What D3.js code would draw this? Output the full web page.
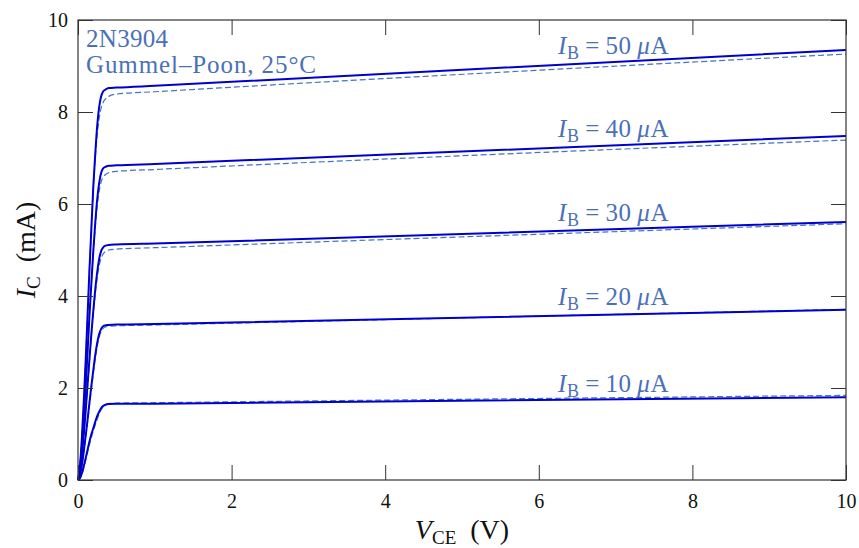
<!DOCTYPE html>
<html>
<head>
<meta charset="utf-8">
<script src="https://cdn.jsdelivr.net/npm/d3@7"></script>
<style>
html,body{margin:0;padding:0;background:#fff;}
svg{display:block;}
</style>
</head>
<body>
<svg id="chart" width="859" height="548"></svg>
<script>
// ---- data ----
const vce = [0, 0.025, 0.05, 0.075, 0.1, 0.125, 0.15, 0.175, 0.2, 0.225, 0.25, 0.275, 0.3, 0.325, 0.35, 0.4, 0.5, 1, 10];
const baseCurrents = [50, 40, 30, 20, 10]; // µA
// measured-style (solid) curves, I_C in mA
const solid50 = [0, 0.3, 0.9, 1.7, 2.6, 3.6, 4.6, 5.5, 6.4, 7.1, 7.7, 8.1, 8.33, 8.44, 8.48, 8.52, 8.53, 8.57, 9.35];
const solid40 = [0, 0.23, 0.7, 1.33, 2.03, 2.8, 3.6, 4.3, 5.0, 5.6, 6.1, 6.45, 6.67, 6.77, 6.8, 6.83, 6.84, 6.87, 7.48];
const solid30 = [0, 0.17, 0.52, 0.98, 1.5, 2.08, 2.65, 3.2, 3.7, 4.15, 4.52, 4.8, 4.97, 5.05, 5.09, 5.11, 5.12, 5.14, 5.61];
const solid20 = [0, 0.1, 0.32, 0.62, 0.96, 1.32, 1.7, 2.06, 2.4, 2.72, 2.98, 3.17, 3.28, 3.34, 3.36, 3.37, 3.38, 3.39, 3.70];
const solid10 = [0, 0.04, 0.14, 0.3, 0.48, 0.66, 0.84, 1.0, 1.13, 1.27, 1.39, 1.48, 1.56, 1.61, 1.63, 1.65, 1.655, 1.66, 1.80];
// Gummel–Poon model (dashed) curves
const model50 = [0, 0.3, 0.9, 1.7, 2.6, 3.6, 4.6, 5.5, 6.35, 7.0, 7.5, 7.85, 8.08, 8.2, 8.27, 8.34, 8.39, 8.44, 9.26];
const model40 = [0, 0.23, 0.7, 1.33, 2.03, 2.8, 3.6, 4.3, 4.95, 5.5, 5.95, 6.27, 6.47, 6.58, 6.63, 6.68, 6.71, 6.75, 7.39];
const model30 = [0, 0.17, 0.52, 0.98, 1.5, 2.06, 2.6, 3.15, 3.63, 4.05, 4.4, 4.65, 4.82, 4.91, 4.96, 5.0, 5.02, 5.05, 5.57];
const model20 = [0, 0.1, 0.3, 0.6, 0.92, 1.27, 1.63, 1.98, 2.32, 2.63, 2.9, 3.1, 3.22, 3.29, 3.32, 3.34, 3.35, 3.37, 3.71];
const model10 = [0, 0.03, 0.12, 0.26, 0.42, 0.6, 0.77, 0.93, 1.07, 1.2, 1.32, 1.43, 1.52, 1.58, 1.62, 1.66, 1.67, 1.68, 1.84];
const solidSeries = [solid50, solid40, solid30, solid20, solid10];
const modelSeries = [model50, model40, model30, model20, model10];
// label anchor levels (I_C in mA at each label's baseline)
const labelLevels = [9.26, 7.46, 5.63, 3.80, 1.91];
const xTicks = [0, 2, 4, 6, 8, 10];
const yTicks = [0, 2, 4, 6, 8, 10];
const titleLines = ["2N3904", "Gummel\u2013Poon, 25\u00B0C"];

// ---- layout ----
const FONT = "Liberation Serif";
const svg = d3.select("#chart");
const L = 78, R = 846, T = 20, B = 480;
const x = d3.scaleLinear().domain([0, 10]).range([L, R]);
const y = d3.scaleLinear().domain([0, 10]).range([B, T]);
const tickLen = 15;
const axisColor = "#333";
const annColor = "#4a71b8";

// curves
const line = d3.line().x((d, i) => x(vce[i])).y(d => y(d)).curve(d3.curveMonotoneX);
const gCurves = svg.append("g");
modelSeries.forEach(s => {
  gCurves.append("path").attr("d", line(s)).attr("fill", "none")
    .attr("stroke", "#4472c4").attr("stroke-width", 1.2).attr("stroke-dasharray", "6,3");
});
solidSeries.forEach(s => {
  gCurves.append("path").attr("d", line(s)).attr("fill", "none")
    .attr("stroke", "#0000cd").attr("stroke-width", 2);
});

// axes
function styleAxis(g) {
  g.attr("font-family", FONT).attr("font-size", 20);
  g.select(".domain").remove();
  g.selectAll(".tick line").attr("stroke", axisColor).attr("stroke-width", 1);
  g.selectAll(".tick text").attr("fill", "#111").attr("font-family", FONT);
}
svg.append("g").attr("transform", `translate(0,${B})`)
  .call(d3.axisBottom(x).tickValues(xTicks).tickFormat(d3.format("d")).tickSizeInner(-tickLen).tickSizeOuter(0).tickPadding(14))
  .call(styleAxis);
svg.append("g").attr("transform", `translate(0,${T})`)
  .call(d3.axisTop(x).tickValues(xTicks).tickFormat("").tickSizeInner(-tickLen).tickSizeOuter(0))
  .call(styleAxis);
svg.append("g").attr("transform", `translate(${L},0)`)
  .call(d3.axisLeft(y).tickValues(yTicks).tickFormat(d3.format("d")).tickSizeInner(-tickLen).tickSizeOuter(0).tickPadding(10))
  .call(styleAxis);
svg.append("g").attr("transform", `translate(${R},0)`)
  .call(d3.axisRight(y).tickValues(yTicks).tickFormat("").tickSizeInner(-tickLen).tickSizeOuter(0))
  .call(styleAxis);

svg.append("rect").attr("x", L).attr("y", T).attr("width", R - L).attr("height", B - T)
  .attr("fill", "none").attr("stroke", axisColor).attr("stroke-width", 1.2);

// axis labels
const xl = svg.append("text").attr("x", (L + R) / 2).attr("y", 539).attr("text-anchor", "middle")
  .attr("font-family", FONT).attr("font-size", 28).attr("fill", "#111");
xl.append("tspan").attr("font-style", "italic").text("V");
xl.append("tspan").attr("font-size", 19).attr("dy", 5).text("CE");
xl.append("tspan").attr("dy", -5).text("\u2002(V)");

const yl = svg.append("text").attr("transform", `translate(35,${(T + B) / 2}) rotate(-90)`)
  .attr("text-anchor", "middle").attr("font-family", FONT).attr("font-size", 28).attr("fill", "#111");
yl.append("tspan").attr("font-style", "italic").text("I");
yl.append("tspan").attr("font-size", 19).attr("dy", 5).text("C");
yl.append("tspan").attr("dy", -5).text("\u2002(mA)");

// title annotation
titleLines.forEach((t, i) => {
  svg.append("text").attr("x", 86).attr("y", 47 + i * 26).attr("fill", annColor)
    .attr("font-family", FONT).attr("font-size", 25)
    .attr("letter-spacing", i === 1 ? 0.9 : 0.3).text(t);
});

// curve labels
baseCurrents.forEach((ib, k) => {
  const t = svg.append("text").attr("x", 558).attr("y", y(labelLevels[k]))
    .attr("fill", annColor).attr("font-family", FONT).attr("font-size", 25).attr("letter-spacing", 0.6);
  t.append("tspan").attr("font-style", "italic").text("I");
  t.append("tspan").attr("font-size", 18).attr("dy", 5).text("B");
  t.append("tspan").attr("dy", -5).text("\u2009=\u2009" + ib + "\u2009");
  t.append("tspan").attr("font-style", "italic").text("\u03BC");
  t.append("tspan").text("A");
});
</script>
</body>
</html>
